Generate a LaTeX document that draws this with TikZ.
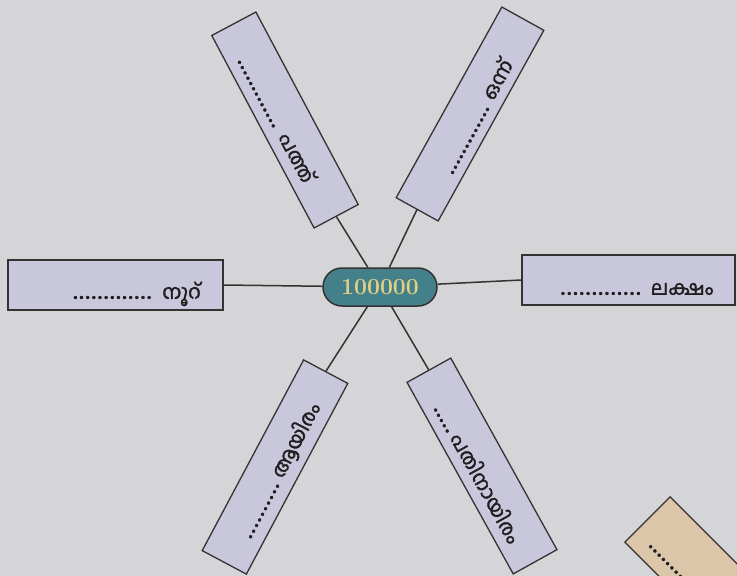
\documentclass[tikz,border=0pt]{standalone}
\usepackage{fontspec}
\newfontfamily\mal[Script=Malayalam, AutoFakeBold=1.6]{Hind Kochi}
\definecolor{bgc}{HTML}{D5D5D8}
\definecolor{boxc}{HTML}{C8C7DC}
\definecolor{tanc}{HTML}{DCC6AA}
\definecolor{linec}{HTML}{333333}
\definecolor{ink}{HTML}{1E1E1E}
\definecolor{ovalc}{HTML}{44808A}
\definecolor{numc}{HTML}{E2CF86}
% a row of evenly spaced, heavy dots of the given width
\newcommand\dotrun[1]{\makebox[#1]{\xleaders\hbox to 6pt{\hss\fontsize{25}{25}\selectfont.\hss}\hfill}}
\begin{document}
\begin{tikzpicture}[x=1pt,y=-1pt,
  box/.style={draw=linec, fill=boxc, line width=1.3pt, minimum width=#1,
    minimum height=50pt, inner sep=0pt, transform shape},
  box/.default=216pt,
  lbl/.style={font=\mal\bfseries\fontsize{20}{22}\selectfont, text=ink,
    inner sep=0pt, transform shape},
  link/.style={draw=linec, line width=1.5pt}]

\fill[bgc] (0,0) rectangle (737,576);
\clip (0,0) rectangle (737,576);

% hub
\node[draw=linec, fill=ovalc, line width=1.5pt, rounded corners=19pt,
  minimum width=114pt, minimum height=38pt, inner sep=0pt, text=numc,
  font=\bfseries\fontsize{23}{23}\selectfont] (hub) at (380,287) {100000};

% ten
\begin{scope}[shift={(285,120)}, rotate=-62]
  \node[box=218pt] (ten) at (0,0) {};
  \node[lbl] at (-5,6) {\dotrun{78pt}\hspace{9pt}പത്ത്};
\end{scope}

% one
\begin{scope}[shift={(470,114)}, rotate=61]
  \node[box=218pt, minimum height=48pt] (one) at (0,0) {};
  \node[lbl] at (1,6) {\dotrun{78pt}\hspace{7pt}ഒന്ന്};
\end{scope}

% hundred
\begin{scope}[shift={(115.5,285)}]
  \node[box=215pt] (hundred) at (0,0) {};
  \node[lbl] at (21,9) {\dotrun{80pt}\hspace{10pt}നൂറ്};
\end{scope}

% lakh
\begin{scope}[shift={(628.5,280)}]
  \node[box=213pt] (lakh) at (0,0) {};
  \node[lbl] at (8,9) {\dotrun{82pt}\hspace{9pt}ലക്ഷം};
\end{scope}

% thousand
\begin{scope}[shift={(275,467)}, rotate=62]
  \node[box=216pt] (thousand) at (0,0) {};
  \node[lbl] at (-1,6) {\dotrun{64pt}\hspace{5pt}ആയിരം};
\end{scope}

% ten thousand
\begin{scope}[shift={(482,466)}, rotate=-61]
  \node[box=219pt] (tenthousand) at (0,0) {};
  \node[lbl] at (4,6) {\dotrun{30pt}\hspace{4pt}പതിനായിരം};
\end{scope}

% partly shown card, lower right
\begin{scope}[shift={(647,519)}, rotate=-45]
  \node[box=200pt, minimum height=64pt, fill=tanc, anchor=west] (extra) at (0,0) {};
  \node[lbl, anchor=west] at (19,17) {\dotrun{60pt}};
\end{scope}

% spokes
\draw[link] (ten.east) -- (hub);
\draw[link] (one.west) -- (hub);
\draw[link] (hundred.east) -- (hub);
\draw[link] (lakh.west) -- (hub);
\draw[link] (thousand.east) -- (hub);
\draw[link] (tenthousand.west) -- (hub);
\end{tikzpicture}
\end{document}
